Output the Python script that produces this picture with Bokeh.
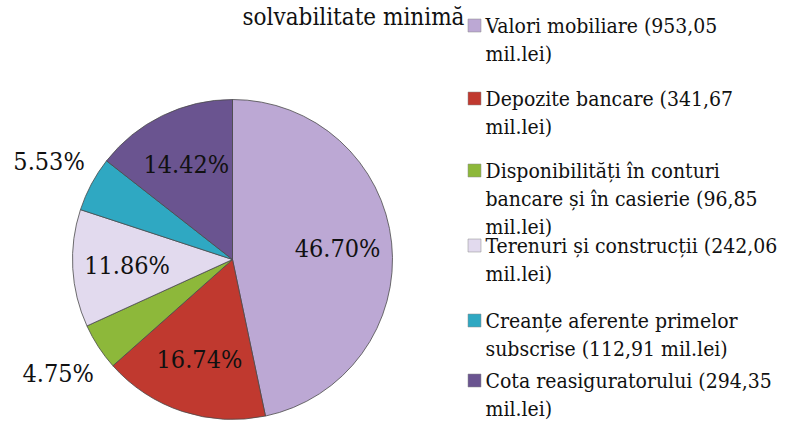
import math
from bokeh.plotting import figure
from bokeh.models import Range1d, ColumnDataSource
from bokeh.core.properties import value
from bokeh.embed import file_html
from bokeh.resources import INLINE

title_text = "solvabilitate minimă"
categories = [
    "Valori mobiliare (953,05\nmil.lei)",
    "Depozite bancare (341,67\nmil.lei)",
    "Disponibilități în conturi\nbancare și în casierie (96,85\nmil.lei)",
    "Terenuri și construcții (242,06\nmil.lei)",
    "Creanțe aferente primelor\nsubscrise (112,91 mil.lei)",
    "Cota reasiguratorului (294,35\nmil.lei)",
]
values = [953.05, 341.67, 96.85, 242.06, 112.91, 294.35]
colors = ["#BCA8D4", "#C0392F", "#8DB83A", "#E2DAEE", "#2FA8C2", "#6A5490"]

W, H = 788, 420
FONT = "DejaVu Serif Condensed, DejaVu Serif"

def sx(rx):
    return rx

def sy(ry):
    return H - ry

p = figure(width=W, height=H, output_backend="svg", toolbar_location=None,
           x_range=Range1d(0, W), y_range=Range1d(0, H), min_border=0)
p.axis.visible = False
p.grid.visible = False
p.outline_line_color = None
p.background_fill_color = "white"
p.border_fill_color = "white"

cx, cy, R = sx(232), sy(259), 160
total = sum(values)
fracs = [v / total for v in values]
starts, ends, lx, ly, labels = [], [], [], [], []
cum = 0.0
for f in fracs:
    a0 = math.pi / 2 - cum * 2 * math.pi
    a1 = math.pi / 2 - (cum + f) * 2 * math.pi
    starts.append(a1)
    ends.append(a0)
    mid = (a0 + a1) / 2
    rr = R * (1.3 if f < 0.06 else 0.66)
    lx.append(cx + rr * math.cos(mid))
    ly.append(cy + rr * math.sin(mid))
    labels.append(f"{f*100:.2f}%")
    cum += f

src = ColumnDataSource(dict(start=starts, end=ends, color=colors))
p.wedge(x=cx, y=cy, radius=R, start_angle="start", end_angle="end",
        fill_color="color", line_color="#4a4a4a", line_width=0.8, source=src,
        direction="anticlock")

p.text(x=lx, y=ly, text=labels, text_font=value(FONT), text_font_size="25px",
       text_align="center", text_baseline="middle", text_color="#111111")

# title (visible line)
p.text(x=[sx(353)], y=[sy(16)], text=[title_text], text_font=value(FONT),
       text_font_size="24px", text_align="center", text_baseline="middle",
       text_color="#111111")

# legend
entry_y = [25, 98, 170, 245, 320, 380]
line_h = 28
for name, col, ey in zip(categories, colors, entry_y):
    p.rect(x=[sx(474)], y=[sy(ey)], width=13, height=13, fill_color=col,
           line_color="#888888", line_width=0.5)
    for k, ln in enumerate(name.split("\n")):
        p.text(x=[sx(485)], y=[sy(ey + k * line_h)], text=[ln],
               text_font=value(FONT), text_font_size="21px",
               text_align="left", text_baseline="middle", text_color="#111111")

open("out.html", "w").write(file_html(p, INLINE))
